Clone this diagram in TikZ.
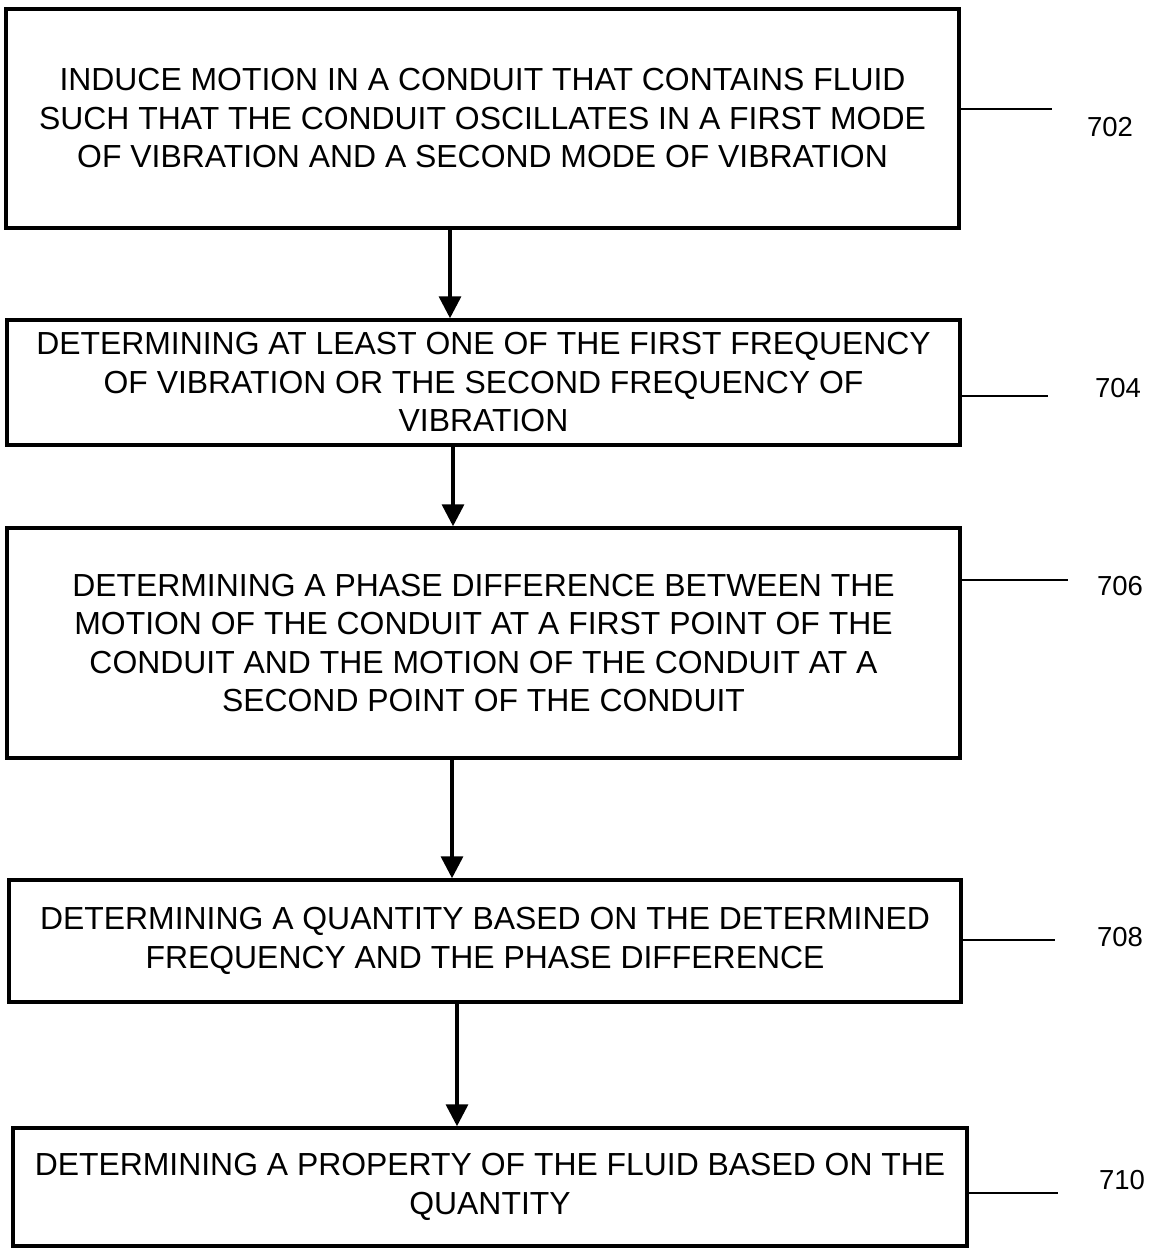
\documentclass[tikz,border=0pt]{standalone}
\usepackage{fontspec}
\setmainfont{Liberation Sans}
\usetikzlibrary{arrows.meta}
\begin{document}
\begin{tikzpicture}[x=1pt,y=-1pt,
  stepbox/.style={draw, line width=3.5pt, inner sep=0pt, align=center,
    font=\fontsize{31.9}{38.5}\selectfont},
  flow/.style={line width=3.5pt, -{Triangle[length=22pt,width=22pt]}},
  leader/.style={line width=2pt},
  reflabel/.style={inner sep=0pt, font=\fontsize{27.5}{32}\selectfont}]
\useasboundingbox (0,0) rectangle (1154,1249);
\node[stepbox, minimum width=953pt, minimum height=219pt] (b702) at (482.5,118.5)
  {INDUCE MOTION IN A CONDUIT THAT CONTAINS FLUID\\SUCH THAT THE CONDUIT OSCILLATES IN A FIRST MODE\\OF VIBRATION AND A SECOND MODE OF VIBRATION};
\node[stepbox, minimum width=953pt, minimum height=125pt] (b704) at (483.5,382.5)
  {DETERMINING AT LEAST ONE OF THE FIRST FREQUENCY\\OF VIBRATION OR THE SECOND FREQUENCY OF\\VIBRATION};
\node[stepbox, minimum width=953pt, minimum height=230pt] (b706) at (483.5,643)
  {DETERMINING A PHASE DIFFERENCE BETWEEN THE\\MOTION OF THE CONDUIT AT A FIRST POINT OF THE\\CONDUIT AND THE MOTION OF THE CONDUIT AT A\\SECOND POINT OF THE CONDUIT};
\node[stepbox, minimum width=952pt, minimum height=122pt] (b708) at (485,941)
  {DETERMINING A QUANTITY BASED ON THE DETERMINED\\FREQUENCY AND THE PHASE DIFFERENCE};
\node[stepbox, minimum width=954pt, minimum height=118pt] (b710) at (490,1187)
  {DETERMINING A PROPERTY OF THE FLUID BASED ON THE\\QUANTITY};
% arrows
\coordinate (x1) at (450,0);
\coordinate (x2) at (453,0);
\coordinate (x3) at (452,0);
\coordinate (x4) at (457,0);
\draw[flow] (b702.south -| x1) -- (b704.north -| x1);
\draw[flow] (b704.south -| x2) -- (b706.north -| x2);
\draw[flow] (b706.south -| x3) -- (b708.north -| x3);
\draw[flow] (b708.south -| x4) -- (b710.north -| x4);
% leaders and labels
\coordinate (e702) at (1052,109);
\coordinate (e704) at (1048,396);
\coordinate (e706) at (1068,580);
\coordinate (e708) at (1055,940);
\coordinate (e710) at (1058,1193);
\draw[leader] (b702.east |- e702) -- (e702);
\draw[leader] (b704.east |- e704) -- (e704);
\draw[leader] (b706.east |- e706) -- (e706);
\draw[leader] (b708.east |- e708) -- (e708);
\draw[leader] (b710.east |- e710) -- (e710);
\node[reflabel] (l702) at (1110,127) {702};
\node[reflabel] (l704) at (1118,388) {704};
\node[reflabel] (l706) at (1120,586) {706};
\node[reflabel] (l708) at (1120,937) {708};
\node[reflabel] (l710) at (1122,1180) {710};
\end{tikzpicture}
\end{document}
